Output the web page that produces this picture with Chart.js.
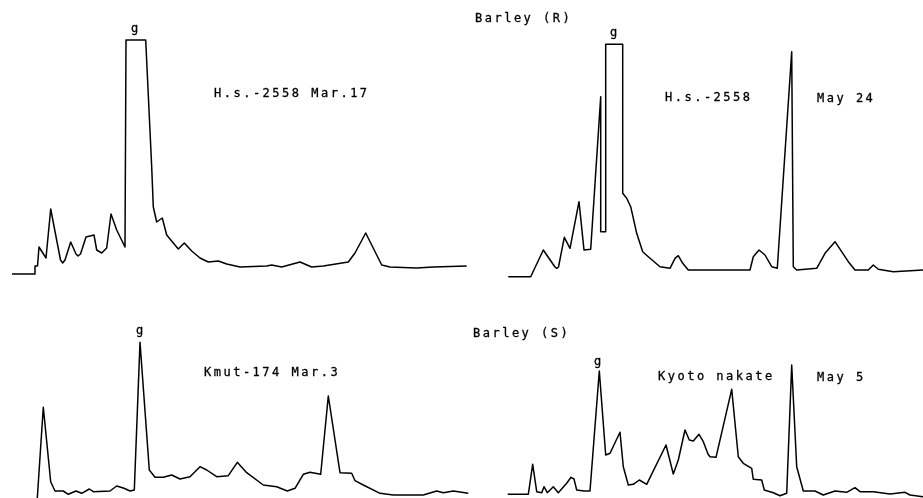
<!DOCTYPE html>
<html>
<head>
<meta charset="utf-8">
<script src="https://cdn.jsdelivr.net/npm/chart.js@4/dist/chart.umd.min.js"></script>
<style>
  html, body { margin: 0; padding: 0; background: #fff; }
  #stage { position: relative; width: 923px; height: 498px; overflow: hidden; }
  canvas { position: absolute; }
  .lbl {
    position: absolute;
    font-family: 'DejaVu Sans Mono', monospace;
    font-size: 12px;
    line-height: 12px;
    letter-spacing: 2.5px;
    color: #000;
    -webkit-text-stroke: 0.3px #000;
    white-space: nowrap;
  }
</style>
</head>
<body>
<div id="stage"></div>
<script>
// Chromatogram traces.
// time = elution position within the panel, signal = detector response above panel floor

// Barley (R), H.s.-2558, Mar.17
const hsMar17Time = [12, 35, 35, 37.5, 39, 46, 50.7, 60.5, 62.7, 65, 70.7, 76, 78, 80.5, 86, 94, 96.7, 101.7, 106.7, 111, 116.7, 125, 126, 145.7, 151.7, 153.3, 156.7, 162.3, 166.7, 178.3, 184.3, 191.7, 200, 208.3, 218.3, 226.7, 240, 266.7, 271.7, 281.7, 300, 311.7, 323.3, 348.3, 355, 365.7, 376.7, 381.7, 390, 416.7, 433.3, 466.7];
const hsMar17Signal = [16, 16, 24, 24, 43, 32, 81, 30, 27, 30, 48, 36, 34, 36, 53, 55, 40, 37, 42, 76, 60, 43, 250, 250, 123, 83, 68, 72, 55, 41, 47, 39, 32, 28, 29, 26, 23, 24, 25, 23, 28, 23, 24, 28, 37, 57, 35, 25, 23, 22, 23, 24];

// Barley (R), H.s.-2558, May 24
const hsMay24Time = [38.3, 60.7, 73.3, 85, 86.7, 88.5, 94.3, 100, 109, 114, 120.7, 130.7, 130.7, 135.7, 135.7, 152.7, 152.7, 156.7, 160.7, 166.7, 172.7, 178.3, 190, 200, 205, 208.3, 212.7, 218.3, 280, 283.3, 289, 295, 301.7, 307.3, 321.7, 323.3, 326.7, 346.7, 355, 365, 378.3, 385, 398.3, 403.3, 408.3, 423.3, 453];
const hsMay24Signal = [13.3, 13.3, 40, 23, 21.7, 23, 52.7, 41.7, 88.3, 40, 40.7, 193.3, 58.3, 58.3, 245.7, 245.7, 96.7, 91.7, 83.3, 56.7, 38.3, 33.3, 23.3, 21.7, 31.7, 34.3, 26.7, 20, 20, 33.3, 40, 35, 23.3, 21.7, 238.3, 23.3, 20, 21.7, 36.7, 48.3, 28.3, 20, 20, 25, 20.7, 18.3, 20];

// Barley (S), Kmut-174, Mar.3
const kmutMar3Time = [37.3, 43.3, 50.7, 55, 63.3, 68.3, 76, 81.7, 89.3, 93.3, 110, 116.7, 124, 130, 134.3, 140, 149.3, 155, 163.3, 171.7, 180, 190, 200, 206.7, 216.7, 228.3, 237.3, 246.7, 263.3, 276.7, 287.3, 295, 303.3, 310, 320.7, 328.3, 340, 351.7, 355, 363.3, 380, 393.3, 423.3, 436.7, 443.3, 453.3, 468.3];
const kmutMar3Signal = [0, 90.7, 16.3, 7, 7, 3.7, 7, 4.7, 9, 6.3, 7, 12, 9.7, 7, 8, 155.7, 28, 20.7, 20.7, 23, 19, 21.3, 31.3, 28, 21.3, 22.3, 35.7, 25.3, 13, 11.3, 7, 9.7, 23.7, 25.7, 23.7, 102, 25.3, 24.7, 17.3, 13, 4.7, 3, 3, 7, 5.3, 7, 4.7];

// Barley (S), Kyoto nakate, May 5
const kyotoMay5Time = [37.7, 58.3, 62.7, 66.7, 71.7, 74, 77.3, 83.3, 88.3, 96.7, 101, 104, 106.7, 114, 120, 129.3, 135.7, 140, 150, 153.3, 158.3, 163.3, 169.3, 176.7, 196, 203.3, 208.3, 215, 219.3, 223.3, 229, 233.3, 238, 240, 246, 261.7, 268.3, 273.3, 281.7, 283.3, 291.7, 294.3, 303.3, 310, 316.7, 321.7, 326.7, 333.3, 345, 353.3, 365, 376.7, 385, 390, 403.3, 420, 435, 440, 453];
const kyotoMay5Signal = [3.7, 3.7, 33.7, 6.3, 5.3, 11.3, 5.3, 11.3, 5.3, 14.7, 20.7, 19, 8, 7, 7, 127, 43, 44.7, 65.7, 31.3, 13, 13.7, 18, 13.7, 53, 24, 38, 68, 58, 57, 63.7, 56.3, 44, 41.3, 40.7, 108.7, 41.3, 34.7, 29.7, 18.7, 18, 8, 5.3, 2.3, 4.7, 133, 31.3, 7, 7, 3, 7, 5.7, 10.3, 6.3, 6.3, 4, 5.7, 3, 1.3];

// panel frames on the page
const panels = [
  { time: hsMar17Time, signal: hsMar17Signal, left: 0, top: 0, width: 470, height: 290 },
  { time: hsMay24Time, signal: hsMay24Signal, left: 470, top: 0, width: 453, height: 290 },
  { time: kmutMar3Time, signal: kmutMar3Signal, left: 0, top: 290, width: 470, height: 208 },
  { time: kyotoMay5Time, signal: kyotoMay5Signal, left: 470, top: 290, width: 453, height: 208 }
];

// annotation texts: [text, left x, centre y]
const labels = [
  ['g', 131, 28],
  ['H.s.-2558 Mar.17', 214, 93],
  ['Barley (R)', 475, 18],
  ['g', 610, 32],
  ['H.s.-2558', 665, 97],
  ['May 24', 817, 98],
  ['g', 136, 330],
  ['Kmut-174 Mar.3', 204, 372],
  ['Barley (S)', 473, 333],
  ['g', 594, 361],
  ['Kyoto nakate', 658, 376],
  ['May 5', 817, 377]
];

const stage = document.getElementById('stage');

panels.forEach(p => {
  const canvas = document.createElement('canvas');
  canvas.width = p.width;
  canvas.height = p.height;
  canvas.style.left = p.left + 'px';
  canvas.style.top = p.top + 'px';
  stage.appendChild(canvas);

  new Chart(canvas.getContext('2d'), {
    type: 'scatter',
    data: {
      datasets: [{
        data: p.time.map((t, i) => ({ x: t, y: p.signal[i] })),
        showLine: true,
        borderColor: '#000',
        borderWidth: 1.5,
        borderJoinStyle: 'round',
        pointRadius: 0,
        tension: 0,
        clip: 4
      }]
    },
    options: {
      responsive: false,
      animation: false,
      events: [],
      layout: { padding: 0 },
      plugins: { legend: { display: false }, tooltip: { enabled: false } },
      scales: {
        x: { type: 'linear', display: false, min: 0, max: p.width },
        y: { type: 'linear', display: false, min: 0, max: p.height }
      }
    }
  });
});

labels.forEach(([text, x, y]) => {
  const el = document.createElement('div');
  el.className = 'lbl';
  el.textContent = text;
  el.style.left = x + 'px';
  el.style.top = (y - 6) + 'px';
  stage.appendChild(el);
});
</script>
</body>
</html>
